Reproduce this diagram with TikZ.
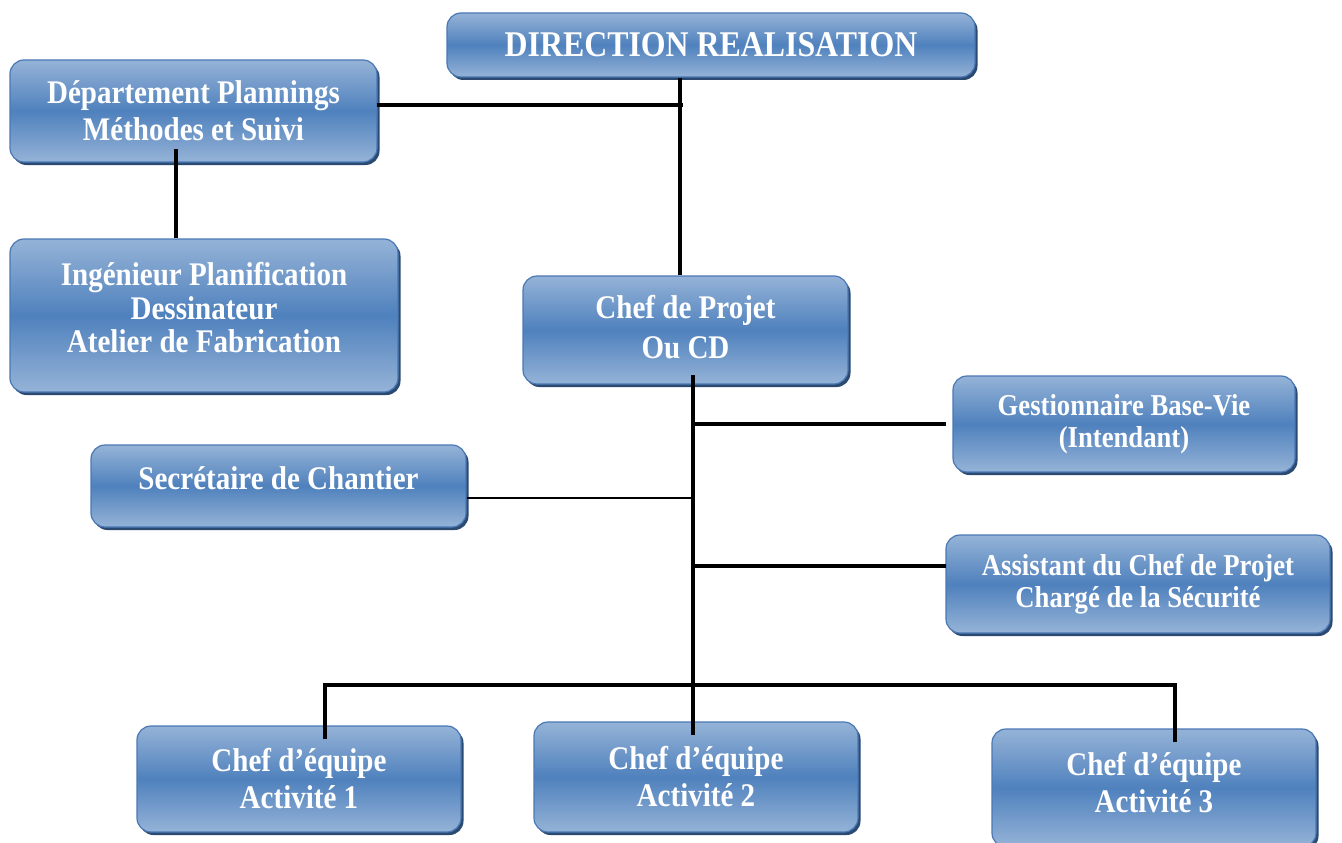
\documentclass[tikz,border=0pt]{standalone}
\usepackage{fontspec}
\setmainfont{Liberation Serif}[FakeStretch=0.88]
\usetikzlibrary{shadows,calc}
\definecolor{bxlight}{HTML}{95B3D7}
\definecolor{bxmid}{HTML}{4F81BD}
\definecolor{bxedge}{HTML}{4A78B5}
\definecolor{bxshadow}{HTML}{2B4A72}
\tikzset{
  orgbox/.style={draw=bxedge, line width=1.2pt, rounded corners=14pt,
    top color=bxlight, bottom color=bxlight, middle color=bxmid,
    text=white, align=center, inner sep=0pt,
    font=\bfseries\fontsize{33}{37}\selectfont,
    drop shadow={shadow xshift=2.5pt, shadow yshift=-3pt, fill=bxshadow, opacity=1}},
  smalltxt/.style={font=\bfseries\fontsize{30.3}{32}\selectfont},
  conn/.style={line width=3.2pt, black},
}
\begin{document}
\begin{tikzpicture}[x=1pt, y=-1pt]
\useasboundingbox (0,0) rectangle (1342,843);
% boxes
\node[orgbox, minimum width=528pt, minimum height=64pt, font=\bfseries\fontsize{36.2}{40}\selectfont] (dir) at (711,45) {DIRECTION REALISATION};
\node[orgbox, minimum width=367pt, minimum height=102pt] (dep) at (193.5,111) {Département Plannings\\Méthodes et Suivi};
\node[orgbox, minimum width=388pt, minimum height=153pt, text depth=16pt, font=\bfseries\fontsize{33}{33.5}\selectfont] (ing) at (204,315.5) {Ingénieur Planification\\Dessinateur\\Atelier de Fabrication};
\node[orgbox, minimum width=325pt, minimum height=108pt, text depth=6pt, font=\bfseries\fontsize{33}{40}\selectfont] (cp) at (685.5,330) {Chef de Projet\\Ou CD};
\node[orgbox, smalltxt, minimum width=342pt, minimum height=96pt] (gest) at (1124,424) {Gestionnaire Base-Vie\\(Intendant)};
\node[orgbox, minimum width=375pt, minimum height=82pt, text depth=16pt] (sec) at (278.5,486) {Secrétaire de Chantier};
\node[orgbox, smalltxt, minimum width=384pt, minimum height=98pt] (asst) at (1138,584) {Assistant du Chef de Projet\\Chargé de la Sécurité};
\node[orgbox, minimum width=324pt, minimum height=106pt] (ce1) at (299,779) {Chef d’équipe\\Activité 1};
\node[orgbox, minimum width=324pt, minimum height=110pt] (ce2) at (696,777) {Chef d’équipe\\Activité 2};
\node[orgbox, minimum width=324pt, minimum height=118pt, text depth=12pt] (ce3) at (1154,788) {Chef d’équipe\\Activité 3};
% junction coordinates
\coordinate (jA) at (680,105);
\coordinate (jB) at (176,149);
\coordinate (sTop) at (693,375);
\coordinate (sBot) at (693,735);
\coordinate (kS) at (693,498);
\coordinate (kA) at (693,566);
\coordinate (b1) at (325,685);
\coordinate (b3) at (1175,685);
% connectors
\draw[conn] (dir.south -| jA) -- (cp.north -| jA);
\draw[conn] ([xshift=-1pt]dep.east |- jA) -- ([xshift=3pt]jA);
\draw[conn] (jB) -- (ing.north -| jB);
\draw[conn] (sTop) -- (sBot);
\draw[conn] (sTop |- gest.west) -- ([xshift=-6pt]gest.west);
\draw[conn, line width=2.2pt] (sec.east |- kS) -- (kS);
\draw[conn] (kA) -- ([xshift=1pt]asst.west |- kA);
\draw[conn] ([yshift=-14pt]ce1.north -| b1) -- (b1) -- (b3) -- ([yshift=-14pt]ce3.north -| b3);
\end{tikzpicture}
\end{document}
